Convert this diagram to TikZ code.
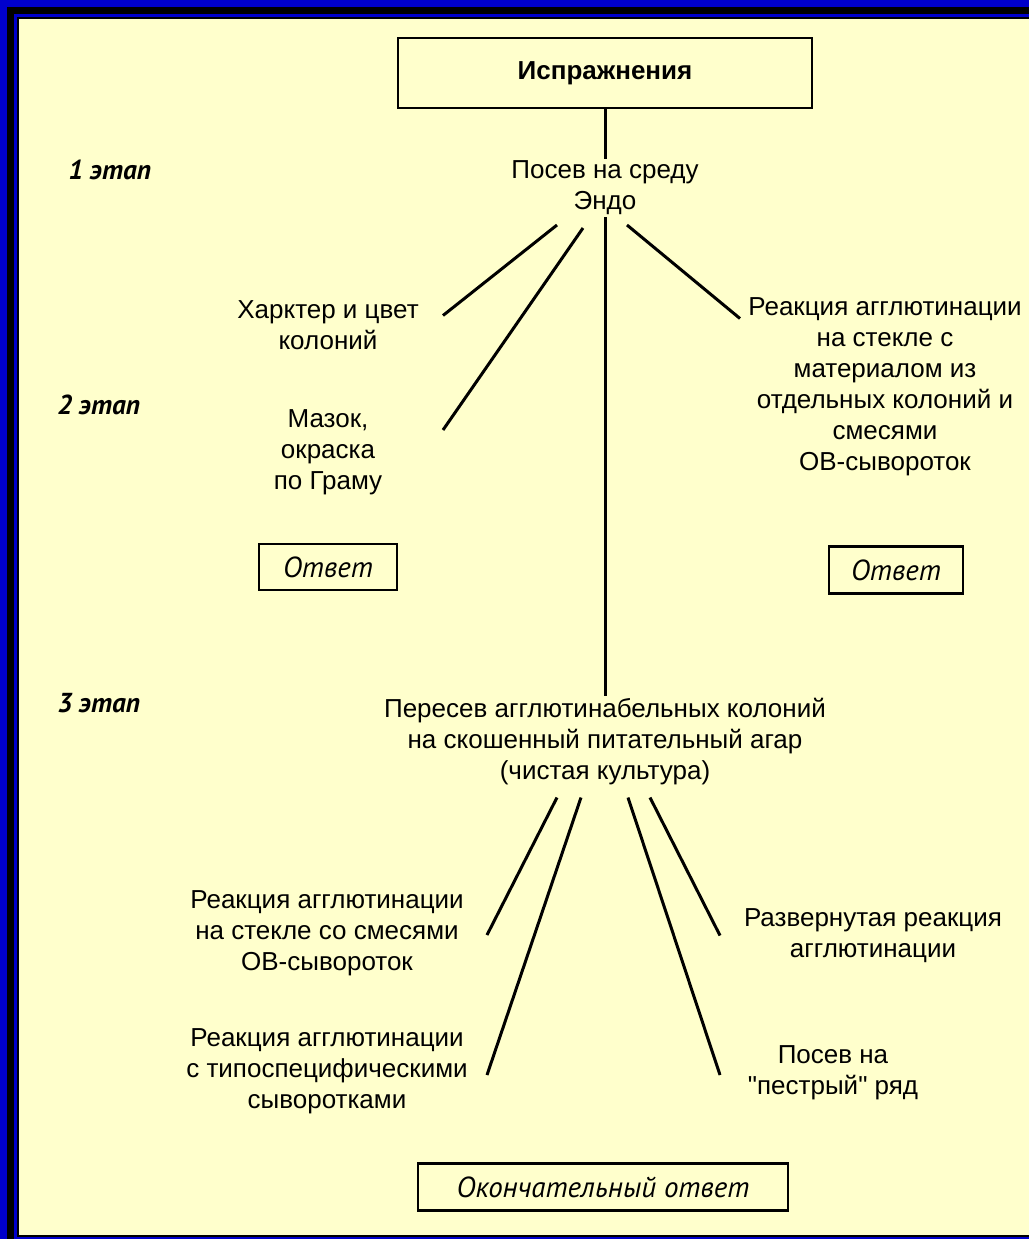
\documentclass[tikz,border=0pt]{standalone}
\usepackage{fontspec}
\setmainfont{Liberation Sans}
\newfontfamily\ptsans{PT Sans}
\usetikzlibrary{calc}
\definecolor{frameblue}{HTML}{0000CC}
\definecolor{cream}{HTML}{FFFFCC}

\begin{document}
\begin{tikzpicture}[
  x=0.5pt, y=-0.5pt,
  txt/.style={align=center, inner sep=1pt, font=\fontsize{13}{15.5}\selectfont},
  box/.style={draw, line width=1.4pt, inner sep=0pt},
  ans/.style={box, font=\ptsans\itshape\fontsize{14.5}{16}\selectfont},
  stage/.style={anchor=west, inner sep=0pt, font=\ptsans\bfseries\itshape\fontsize{13.7}{15}\selectfont},
  link/.style={line width=1.5pt},
]
  % frame
  \useasboundingbox (0,0) rectangle (1029,1239);
  \fill[frameblue] (0,0) rectangle (1029,1239);
  \fill[black] (7,7) rectangle (1029,1239);
  \fill[frameblue] (14,14) rectangle (1029,1239);
  \fill[black] (17,17) rectangle (1029,1237);
  \fill[cream] (19,19) rectangle (1029,1235);

  \node[box, minimum width=207pt, minimum height=35pt, font=\bfseries\fontsize{13}{15}\selectfont] (isp) at (605,73) {Испражнения};
  \node[txt] (posev) at (605,188) {Посев на среду\\Эндо};

  \node[stage] (st1) at (68,170) {1 этап};
  \node[stage] (st2) at (57,405) {2 этап};
  \node[stage] (st3) at (57,703) {3 этап};

  \node[txt] (har)   at (328,325.5) {Харктер и цвет\\колоний};
  \node[txt] (mazok) at (328,452)   {Мазок,\\окраска\\по Граму};
  \node[txt] (aglst) at (885,386.5) {Реакция агглютинации\\на стекле с\\материалом из\\отдельных колоний и\\смесями\\ОВ-сывороток};

  \node[ans, minimum width=69pt, minimum height=23pt] (ansl) at (328,567) {Ответ};
  \node[ans, minimum width=67pt, minimum height=23.5pt] (ansr) at (896,570) {Ответ};

  \node[txt] (peresev) at (605,741.5) {Пересев агглютинабельных колоний\\на скошенный питательный агар\\(чистая культура)};

  \node[txt] (aglmix)  at (327,933.5) {Реакция агглютинации\\на стекле со смесями\\ОВ-сывороток};
  \node[txt] (agltype) at (327,1071)  {Реакция агглютинации\\с типоспецифическими\\сыворотками};
  \node[txt] (razv)    at (873,935.5) {Развернутая реакция\\агглютинации};
  \node[txt] (pestr)   at (833,1072.5) {Посев на\\\textquotedbl пестрый\textquotedbl{} ряд};

  \node[ans, minimum width=185pt, minimum height=23.5pt] (final) at (603,1187) {Окончательный ответ};

  \draw[link] (isp) -- (posev);
  \draw[link] ($(posev)+(-48,37)$) -- ($(har)+(115,-10)$);
  \draw[link] ($(posev)+(-22,40)$) -- ($(mazok)+(115,-22)$);
  \draw[link] ($(posev)+(22,37)$)  -- ($(aglst)+(-145,-68)$);
  \draw[link] (posev) -- (peresev);

  \draw[link] ($(peresev)+(-48,56)$) -- ($(aglmix)+(160,1.5)$);
  \draw[link] ($(peresev)+(-24,56)$) -- ($(agltype)+(160,4)$);
  \draw[link] ($(peresev)+(23,56)$)  -- ($(pestr)+(-113,2.5)$);
  \draw[link] ($(peresev)+(45,56)$)  -- ($(razv)+(-153,0)$);
\end{tikzpicture}
\end{document}
